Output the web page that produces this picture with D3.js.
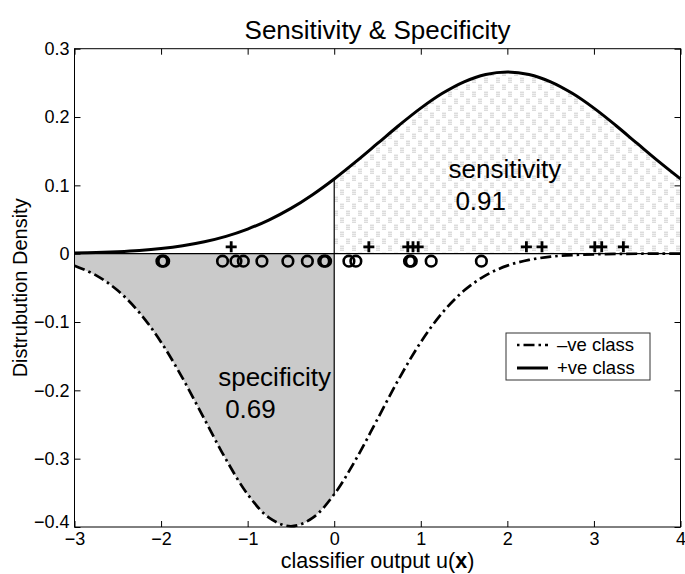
<!DOCTYPE html>
<html>
<head>
<meta charset="utf-8">
<script src="https://cdn.jsdelivr.net/npm/d3@7"></script>
<style>
  body { margin: 0; background: #fff; }
  svg { display: block; font-family: "Liberation Sans", Arial, Helvetica, sans-serif; }
</style>
</head>
<body>
<svg id="chart"></svg>
<script>
// classifier output grid and the two class densities
const xGrid = [-3, -2.75, -2.5, -2.25, -2, -1.75, -1.5, -1.25, -1, -0.75, -0.5, -0.25,
  0, 0.25, 0.5, 0.75, 1, 1.25, 1.5, 1.75, 2, 2.25, 2.5, 2.75, 3, 3.25, 3.5, 3.75, 4];
const posDensity = [0.0010, 0.0018, 0.0030, 0.0048, 0.0076, 0.0117, 0.0175, 0.0254, 0.0360, 0.0496,
  0.0663, 0.0864, 0.1094, 0.1347, 0.1613, 0.1880, 0.2130, 0.2347, 0.2516, 0.2623,
  0.2660, 0.2623, 0.2516, 0.2347, 0.2130, 0.1880, 0.1613, 0.1347, 0.1094];
const negDensity = [-0.0175, -0.0317, -0.0540, -0.0863, -0.1295, -0.1826, -0.2420, -0.3011, -0.3521, -0.3867,
  -0.3989, -0.3867, -0.3521, -0.3011, -0.2420, -0.1826, -0.1295, -0.0863, -0.0540, -0.0317,
  -0.0175, -0.0091, -0.0044, -0.0020, -0.0009, -0.0004, -0.0001, 0, 0];

// individual samples shown along the zero line
const negSamples = [-1.99, -1.97, -1.29, -1.135, -1.05, -0.835, -0.535, -0.31, -0.12, -0.10,
  0.17, 0.25, 0.87, 0.89, 1.12, 1.70];
const posSamples = [-1.19, 0.40, 0.85, 0.91, 0.97, 2.22, 2.40, 3.01, 3.09, 3.34];
const negMarkY = -0.011;
const posMarkY = 0.01;

const xTicks = [-3, -2, -1, 0, 1, 2, 3, 4];
const yTicks = [0.3, 0.2, 0.1, 0, -0.1, -0.2, -0.3, -0.4];
const threshold = 0;
const sensitivity = "0.91";
const specificity = "0.69";

const width = 685, height = 574;
const margin = { top: 48.7, right: 4.5, bottom: 47, left: 74.5 };
const innerW = width - margin.left - margin.right;
const innerH = height - margin.top - margin.bottom;

const svg = d3.select('#chart').attr('width', width).attr('height', height);

// fill patterns
const defs = svg.append('defs');
const pSpec = defs.append('pattern').attr('id', 'specPat')
  .attr('patternUnits', 'userSpaceOnUse').attr('width', 6).attr('height', 6);
pSpec.append('rect').attr('width', 6).attr('height', 6).attr('fill', '#f2f2f2');
[[0, 0], [2, 0], [4, 0], [1, 1], [3, 1], [5, 1], [0, 2], [2, 2], [4, 2],
 [1, 3], [5, 3], [0, 4], [2, 4], [4, 4], [1, 5], [3, 5], [5, 5], [3, 3]].forEach(([px, py]) => {
  pSpec.append('rect').attr('x', px).attr('y', py).attr('width', 1).attr('height', 1).attr('fill', '#a2a2a2');
});

const pSens = defs.append('pattern').attr('id', 'sensPat')
  .attr('patternUnits', 'userSpaceOnUse').attr('width', 12).attr('height', 14);
pSens.append('rect').attr('width', 12).attr('height', 14).attr('fill', '#fff');
[[2, 1], [4, 1], [2, 3], [4, 3], [2, 5], [4, 5], [8, 8], [10, 8], [8, 10], [10, 10], [8, 12], [10, 12]].forEach(([px, py]) => {
  pSens.append('rect').attr('x', px).attr('y', py).attr('width', 1).attr('height', 1).attr('fill', '#9c9c9c');
});

const g = svg.append('g').attr('transform', `translate(${margin.left},${margin.top})`);

const x = d3.scaleLinear().domain([-3, 4]).range([0, innerW]);
const y = d3.scaleLinear().domain([-0.4, 0.3]).range([innerH, 0]);

const posPts = xGrid.map((v, i) => ({ x: v, y: posDensity[i] }));
const negPts = xGrid.map((v, i) => ({ x: v, y: negDensity[i] }));

const area = d3.area().x(d => x(d.x)).y0(y(0)).y1(d => y(d.y)).curve(d3.curveCatmullRom);
const line = d3.line().x(d => x(d.x)).y(d => y(d.y)).curve(d3.curveCatmullRom);

// shaded regions
g.append('path').datum(posPts.filter(d => d.x >= threshold))
  .attr('d', area).attr('fill', 'url(#sensPat)');
g.append('path').datum(negPts.filter(d => d.x <= threshold))
  .attr('d', area).attr('fill', 'url(#specPat)');

// zero line and threshold line
g.append('line').attr('x1', 0).attr('x2', innerW).attr('y1', y(0)).attr('y2', y(0))
  .attr('stroke', '#000').attr('stroke-width', 1.2);
const ti = xGrid.indexOf(threshold);
g.append('line').attr('x1', x(threshold)).attr('x2', x(threshold))
  .attr('y1', y(posDensity[ti])).attr('y2', y(negDensity[ti]))
  .attr('stroke', '#000').attr('stroke-width', 1.2);

// class density curves
g.append('path').datum(posPts).attr('d', line)
  .attr('fill', 'none').attr('stroke', '#000').attr('stroke-width', 3);
g.append('path').datum(negPts).attr('d', line)
  .attr('fill', 'none').attr('stroke', '#000').attr('stroke-width', 2.7)
  .attr('stroke-dasharray', '11,4,2.5,4');

// sample markers
g.selectAll('.neg').data(negSamples).join('circle')
  .attr('class', 'neg')
  .attr('cx', d => x(d)).attr('cy', y(negMarkY)).attr('r', 5.3)
  .attr('fill', 'none').attr('stroke', '#000').attr('stroke-width', 2.6);
g.selectAll('.pos').data(posSamples).join('path')
  .attr('class', 'pos')
  .attr('d', d => `M${x(d) - 5.5},${y(posMarkY)}h11M${x(d)},${y(posMarkY) - 5.5}v11`)
  .attr('stroke', '#000').attr('stroke-width', 2.8);

// axes: ticks pointing inwards on all four sides
const fmtY = d => d === 0 ? '0' : d3.format('.1f')(d);
const fmtX = d3.format('d');
const styleAxis = sel => {
  sel.select('.domain').remove();
  sel.selectAll('line').attr('stroke', '#000');
  sel.selectAll('text').attr('fill', '#000').attr('font-size', 18)
    .attr('font-family', '"Liberation Sans", Arial, sans-serif');
};
g.append('g').attr('transform', `translate(0,${innerH})`)
  .call(d3.axisBottom(x).tickValues(xTicks).tickFormat(fmtX).tickSizeInner(-6).tickSizeOuter(0).tickPadding(5))
  .call(styleAxis);
g.append('g')
  .call(d3.axisTop(x).tickValues(xTicks).tickFormat('').tickSizeInner(-6).tickSizeOuter(0))
  .call(styleAxis);
const yAxisG = g.append('g')
  .call(d3.axisLeft(y).tickValues(yTicks).tickFormat(fmtY).tickSizeInner(-6).tickSizeOuter(0).tickPadding(5))
  .call(styleAxis);
// lowest label sits on its tick so it clears the x labels
yAxisG.selectAll('.tick').filter(d => d === -0.4).select('text').attr('dy', '0em');
g.append('g').attr('transform', `translate(${innerW},0)`)
  .call(d3.axisRight(y).tickValues(yTicks).tickFormat('').tickSizeInner(-6).tickSizeOuter(0))
  .call(styleAxis);
g.append('rect').attr('width', innerW).attr('height', innerH)
  .attr('fill', 'none').attr('stroke', '#000').attr('stroke-width', 1);

// annotations
g.append('text').attr('x', x(1.32)).attr('y', y(0.111)).attr('font-size', 26).text('sensitivity');
g.append('text').attr('x', x(1.40)).attr('y', y(0.064)).attr('font-size', 26).text(sensitivity);
g.append('text').attr('x', x(-1.34)).attr('y', y(-0.193)).attr('font-size', 26).text('specificity');
g.append('text').attr('x', x(-1.26)).attr('y', y(-0.241)).attr('font-size', 26).text(specificity);

// legend
const leg = svg.append('g').attr('transform', 'translate(506,333)');
leg.append('rect').attr('width', 144).attr('height', 47)
  .attr('fill', '#fff').attr('stroke', '#333').attr('stroke-width', 1);
leg.append('line').attr('x1', 11).attr('x2', 42).attr('y1', 12).attr('y2', 12)
  .attr('stroke', '#000').attr('stroke-width', 2.6).attr('stroke-dasharray', '2.5,4,11,4');
leg.append('line').attr('x1', 11).attr('x2', 42).attr('y1', 35).attr('y2', 35)
  .attr('stroke', '#000').attr('stroke-width', 3);
leg.append('text').attr('x', 51).attr('y', 12).attr('dy', '0.35em').attr('font-size', 18.5).text('\u2013ve class');
leg.append('text').attr('x', 51).attr('y', 35).attr('dy', '0.35em').attr('font-size', 18.5).text('+ve class');

// titles
svg.append('text').attr('x', margin.left + innerW / 2).attr('y', 39)
  .attr('text-anchor', 'middle').attr('font-size', 26).text('Sensitivity & Specificity');
const xl = svg.append('text').attr('x', margin.left + innerW / 2).attr('y', 568)
  .attr('text-anchor', 'middle').attr('font-size', 21.5);
xl.append('tspan').text('classifier output u(');
xl.append('tspan').attr('font-weight', 'bold').text('x');
xl.append('tspan').text(')');
svg.append('text')
  .attr('transform', `translate(27,${margin.top + innerH / 2}) rotate(-90)`)
  .attr('text-anchor', 'middle').attr('font-size', 20).text('Distrubution Density');
</script>
</body>
</html>
